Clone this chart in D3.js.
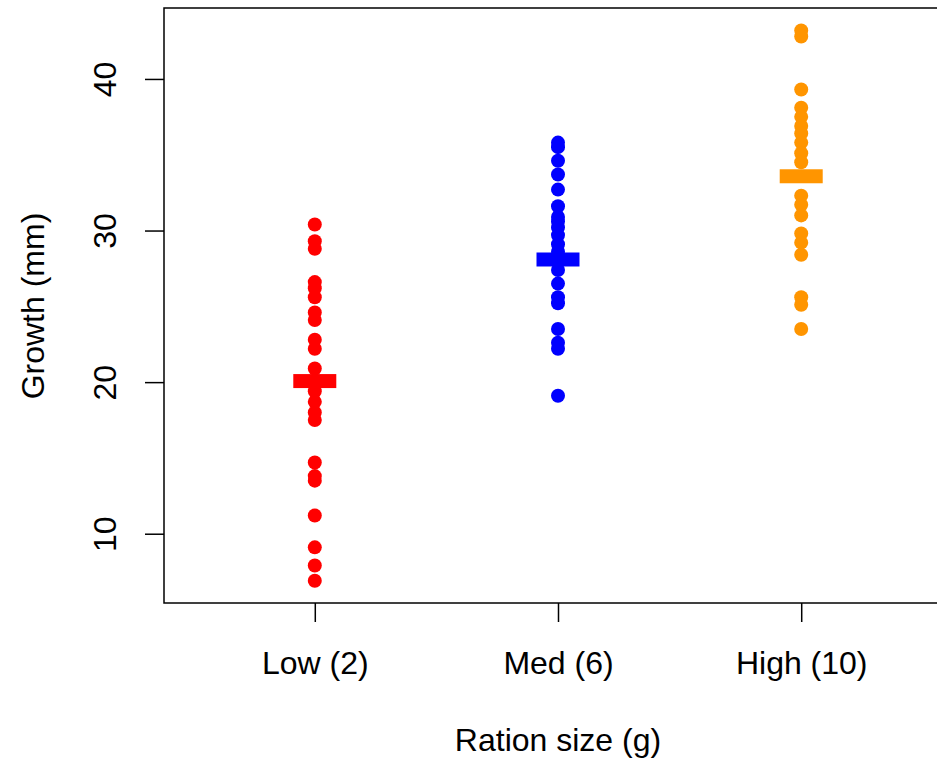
<!DOCTYPE html>
<html>
<head>
<meta charset="utf-8">
<script src="https://cdn.jsdelivr.net/npm/d3@7"></script>
<style>
  body { margin: 0; background: #fff; }
  text { font-family: "Liberation Sans", Arial, sans-serif; }
</style>
</head>
<body>
<div id="chart"></div>
<script>
// groups and growth values (mm)
var groups = ["Low (2)", "Med (6)", "High (10)"];
var groupColors = ["#FF0000", "#0000FF", "#FF9500"];
var lowGrowth = [30.4, 29.3, 28.8, 26.6, 26.2, 25.6, 24.6, 24.1, 22.8, 22.2, 20.9, 20.1, 19.4, 18.7, 18.0, 17.5, 14.7, 13.8, 13.5, 11.2, 9.1, 7.9, 6.9];
var medGrowth = [35.8, 35.5, 34.6, 33.7, 32.7, 31.6, 30.9, 30.6, 30.2, 29.7, 29.1, 28.6, 28.1, 27.4, 26.5, 25.6, 25.2, 23.5, 22.6, 22.2, 19.1];
var highGrowth = [43.2, 42.8, 39.3, 38.1, 37.5, 36.9, 36.4, 35.8, 35.1, 34.5, 32.3, 31.7, 31.0, 29.8, 29.2, 28.4, 25.6, 25.1, 23.5];
var groupMeans = [20.07, 28.09, 33.58];
var yTicks = [10, 20, 30, 40];

var svgWidth = 937, svgHeight = 761;
var margin = {top: 8, left: 164, bottom: 158};
var plotRight = 952; // box runs past the right edge of the picture
var fontSize = 32;

var svg = d3.select("#chart").append("svg")
  .attr("width", svgWidth)
  .attr("height", svgHeight);

var x = d3.scaleLinear()
  .domain([0.38, 3.62])
  .range([margin.left, plotRight]);

var y = d3.scaleLinear()
  .domain([5.43, 44.68])
  .range([svgHeight - margin.bottom, margin.top]);

var allData = [lowGrowth, medGrowth, highGrowth];
var points = [];
allData.forEach(function(vals, i) {
  vals.forEach(function(v) { points.push({g: i, v: v}); });
});

// points
svg.append("g").selectAll("circle")
  .data(points)
  .enter()
  .append("circle")
  .attr("cx", d => x(d.g + 1))
  .attr("cy", d => y(d.v))
  .attr("r", 7)
  .attr("fill", d => groupColors[d.g]);

// mean bars
svg.append("g").selectAll("rect")
  .data(groupMeans)
  .enter()
  .append("rect")
  .attr("x", (d, i) => x(i + 1) - 21.5)
  .attr("y", d => y(d) - 7)
  .attr("width", 43)
  .attr("height", 14)
  .attr("fill", (d, i) => groupColors[i]);

// box
svg.append("rect")
  .attr("x", x.range()[0])
  .attr("y", y.range()[1])
  .attr("width", x.range()[1] - x.range()[0])
  .attr("height", y.range()[0] - y.range()[1])
  .attr("fill", "none")
  .attr("stroke", "#000")
  .attr("stroke-width", 1.5);

// y axis
var yAxis = svg.append("g")
  .attr("transform", `translate(${margin.left},0)`)
  .call(d3.axisLeft(y).tickValues(yTicks).tickSize(19).tickFormat(d3.format("d")));
yAxis.select(".domain").remove();
yAxis.selectAll("line").attr("stroke", "#000").attr("stroke-width", 1.5);
yAxis.selectAll("text")
  .attr("x", null).attr("dy", null)
  .attr("transform", d => `translate(-59,0) rotate(-90)`)
  .attr("text-anchor", "middle")
  .attr("dominant-baseline", "central")
  .attr("font-size", fontSize)
  .attr("font-family", "Liberation Sans, Arial, sans-serif")
  .attr("fill", "#000");

// x axis
var xAxis = svg.append("g")
  .attr("transform", `translate(0,${y.range()[0]})`)
  .call(d3.axisBottom(x).tickValues([1, 2, 3]).tickSize(19).tickFormat(d => groups[d - 1]));
xAxis.select(".domain").remove();
xAxis.selectAll("line").attr("stroke", "#000").attr("stroke-width", 1.5);
xAxis.selectAll("text")
  .attr("y", 60).attr("dy", null)
  .attr("dominant-baseline", "central")
  .attr("font-size", fontSize)
  .attr("font-family", "Liberation Sans, Arial, sans-serif")
  .attr("fill", "#000");

// axis titles
svg.append("text")
  .attr("x", 558)
  .attr("y", 740)
  .attr("text-anchor", "middle")
  .attr("dominant-baseline", "central")
  .attr("font-size", fontSize)
  .text("Ration size (g)");

svg.append("text")
  .attr("transform", "translate(33,306) rotate(-90)")
  .attr("text-anchor", "middle")
  .attr("dominant-baseline", "central")
  .attr("font-size", fontSize)
  .text("Growth (mm)");
</script>
</body>
</html>
